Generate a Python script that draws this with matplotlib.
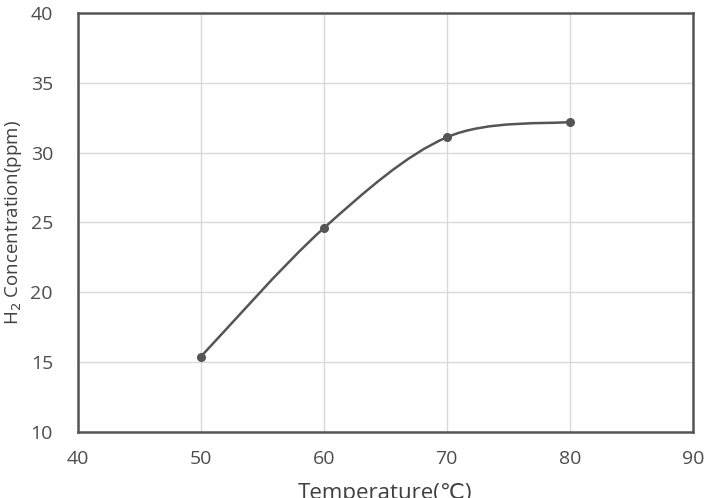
import numpy as np
import matplotlib
matplotlib.use("Agg")
from matplotlib import pyplot as plt
from matplotlib.path import Path
from matplotlib.patches import PathPatch

# data
temperature = [50, 60, 70, 80]
h2_ppm = [15.4, 24.6, 31.1, 32.2]

x_ticks = [40, 50, 60, 70, 80, 90]
y_ticks = [10, 15, 20, 25, 30, 35, 40]

grey = '#555555'
grid_grey = '#d9d9d9'

fig = plt.figure(figsize=(7.09, 4.98), dpi=100)
ax = fig.add_axes([0.110, 0.1325, 0.867, 0.8415])


def smooth_path(xs, ys):
    # excel style smoothed line: cubic bezier segments, catmull-rom tangents
    pts = np.column_stack([xs, ys]).astype(float)
    n = len(pts)
    verts = [pts[0]]
    codes = [Path.MOVETO]
    for i in range(n - 1):
        p0 = pts[i - 1] if i > 0 else pts[i]
        p1 = pts[i]
        p2 = pts[i + 1]
        p3 = pts[i + 2] if i + 2 < n else pts[i + 1]
        c1 = p1 + (p2 - p0) / 6.0
        c2 = p2 - (p3 - p1) / 6.0
        verts += [c1, c2, p2]
        codes += [Path.CURVE4] * 3
    return Path(verts, codes)


ax.add_patch(PathPatch(smooth_path(temperature, h2_ppm), facecolor='none',
                       edgecolor=grey, linewidth=1.8, zorder=3))
ax.plot(temperature, h2_ppm, linestyle='none', marker='o', markersize=5.5,
        color=grey, zorder=4)

ax.set_xlim(40, 90)
ax.set_ylim(10, 40)
ax.set_xticks(x_ticks)
ax.set_yticks(y_ticks)
ax.grid(True, color=grid_grey, linewidth=1.0)
ax.set_axisbelow(True)
ax.tick_params(length=0, labelsize=14, labelcolor='#4d4d4d')
for lbl in ax.get_xticklabels() + ax.get_yticklabels():
    lbl.set_fontfamily('Open Sans')
ax.tick_params(axis='y', pad=18)
ax.tick_params(axis='x', pad=13)
for s in ax.spines.values():
    s.set_color(grey)
    s.set_linewidth(1.8)

ax.set_xlabel('Temperature(\u2103)', fontsize=16, color='#404040',
              family=['Open Sans', 'DejaVu Sans'])
ax.xaxis.set_label_coords(0.5, -0.122)
ax.set_ylabel('H$_2$ Concentration(ppm)', fontsize=13.5, color='#404040',
              family='Open Sans')
ax.yaxis.set_label_coords(-0.088, 0.5)

fig.savefig('out.png', dpi=100)
